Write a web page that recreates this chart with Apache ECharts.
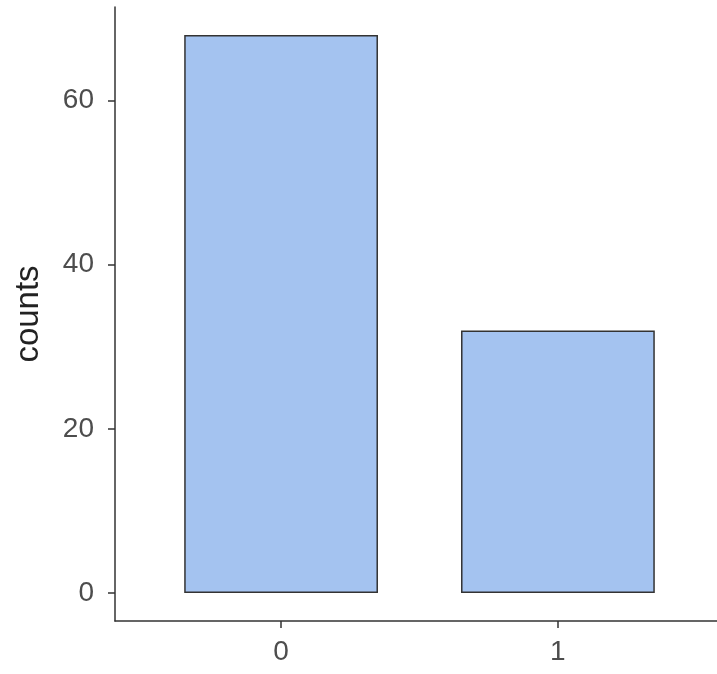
<!DOCTYPE html>
<html>
<head>
<meta charset="utf-8">
<script src="https://cdn.jsdelivr.net/npm/echarts@6/dist/echarts.min.js"></script>
<style>
  html, body { margin: 0; padding: 0; background: #ffffff; overflow: hidden; }
  #wrap { width: 717px; height: 674px; overflow: hidden; }
  /* the panel runs slightly past the right edge of the page */
  #chart { width: 724px; height: 674px; }
</style>
</head>
<body>
<div id="wrap"><div id="chart"></div></div>
<script>
// Category labels and counts per category
const categories = ['0', '1'];
const counts = [68, 32];
const yTicks = [0, 20, 40, 60];

// Discrete x scale: categories at 0..n-1, padded by 0.6 on each side
const xMin = -0.6;
const xMax = categories.length - 1 + 0.6;
const barWidthUnits = 0.7;

// y range padded by 5% of the data span
const yMax = Math.max(...counts);
const yPad = yMax * 0.05;

const chartWidth = 724;
const gridLeft = 115, gridRight = 0, gridTop = 7, gridBottom = 53;
const plotWidth = chartWidth - gridLeft - gridRight;
const pxPerUnit = plotWidth / (xMax - xMin);

const chart = echarts.init(document.getElementById('chart'), null, { renderer: 'canvas' });

const textColor = '#4d4d4d';
const font = '"Liberation Sans", Arial, sans-serif';

chart.setOption({
  animation: false,
  grid: { left: gridLeft, right: gridRight, top: gridTop, bottom: gridBottom, containLabel: false },
  xAxis: {
    type: 'value',
    min: xMin,
    max: xMax,
    splitLine: { show: false },
    axisLine: { show: true, onZero: false, lineStyle: { color: '#333333', width: 1.5 } },
    axisTick: { show: true, length: 7, customValues: categories.map((_, i) => i), lineStyle: { color: '#333333', width: 1.5 } },
    axisLabel: {
      customValues: categories.map((_, i) => i),
      formatter: v => categories[Math.round(v)],
      color: textColor, fontSize: 28, fontFamily: font, margin: 17
    }
  },
  yAxis: {
    type: 'value',
    min: -yPad,
    max: yMax + yPad,
    splitLine: { show: false },
    axisLine: { show: true, onZero: false, lineStyle: { color: '#333333', width: 1.5 } },
    axisTick: { show: true, length: 7, customValues: yTicks, lineStyle: { color: '#333333', width: 1.5 } },
    axisLabel: {
      customValues: yTicks,
      color: textColor, fontSize: 28, fontFamily: font, margin: 21
    },
    name: 'counts',
    nameLocation: 'middle',
    nameGap: 70,
    nameRotate: 90,
    nameTextStyle: { color: '#222222', fontSize: 33, fontFamily: font }
  },
  series: [{
    type: 'bar',
    data: counts.map((c, i) => [i, c]),
    barWidth: barWidthUnits * pxPerUnit,
    itemStyle: { color: '#a4c3f0', borderColor: '#333333', borderWidth: 1.5 }
  }]
});
</script>
</body>
</html>
